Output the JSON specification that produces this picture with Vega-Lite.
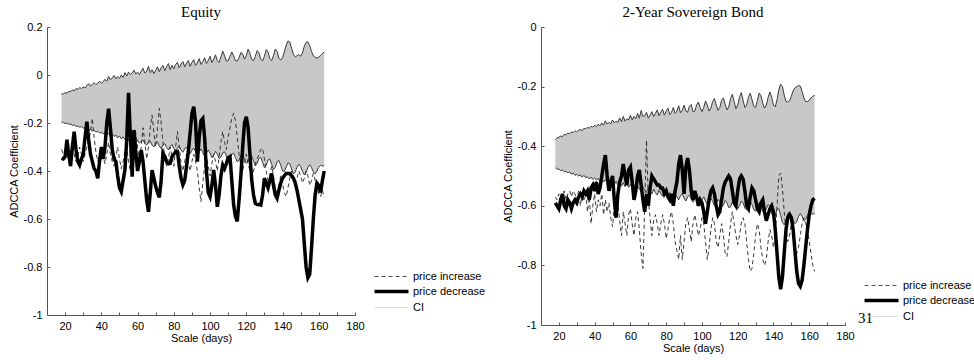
{
"$schema":"https://vega.github.io/schema/vega-lite/v6.json",
"background":"white",
"padding":{"left":8,"top":5,"right":0,"bottom":10},
"bounds":"flush",
"spacing":186,
"config":{
"view":{"stroke":null},
"font":"Liberation Sans",
"axis":{"grid":false,"domainColor":"#555","tickColor":"#555","tickSize":-3,"labelFont":"Liberation Sans","labelFontSize":11,"labelColor":"#000","titleFont":"Liberation Sans","titleFontSize":11,"titleFontWeight":"normal","titleColor":"#000","labelPadding":8,"labelFlush":false},
"axisX":{"titlePadding":1},
"axisY":{"titlePadding":4},
"title":{"font":"Liberation Serif","fontSize":15,"fontWeight":"normal","color":"#000","offset":1},
"legend":{"labelFont":"Liberation Sans","labelFontSize":11,"labelColor":"#000","padding":0,"labelOffset":16}
},
"datasets":{
"eq":[
{"x":18,"h":-0.080,"l":-0.195,"i":-0.31,"d":-0.347},
{"x":19,"h":-0.078,"l":-0.198,"i":-0.33,"d":-0.35},
{"x":20,"h":-0.074,"l":-0.202,"i":-0.35,"d":-0.34},
{"x":21,"h":-0.076,"l":-0.200,"i":-0.32,"d":-0.27},
{"x":22,"h":-0.068,"l":-0.206,"i":-0.36,"d":-0.33},
{"x":23,"h":-0.070,"l":-0.204,"i":-0.34,"d":-0.38},
{"x":24,"h":-0.062,"l":-0.210,"i":-0.30,"d":-0.30},
{"x":25,"h":-0.066,"l":-0.208,"i":-0.33,"d":-0.236},
{"x":26,"h":-0.056,"l":-0.214,"i":-0.36,"d":-0.31},
{"x":27,"h":-0.060,"l":-0.212,"i":-0.34,"d":-0.36},
{"x":28,"h":-0.052,"l":-0.218,"i":-0.30,"d":-0.375},
{"x":29,"h":-0.056,"l":-0.215,"i":-0.33,"d":-0.35},
{"x":30,"h":-0.050,"l":-0.222,"i":-0.36,"d":-0.33},
{"x":31,"h":-0.054,"l":-0.219,"i":-0.33,"d":-0.26},
{"x":32,"h":-0.044,"l":-0.226,"i":-0.30,"d":-0.195},
{"x":33,"h":-0.036,"l":-0.230,"i":-0.27,"d":-0.27},
{"x":34,"h":-0.046,"l":-0.226,"i":-0.24,"d":-0.33},
{"x":35,"h":-0.040,"l":-0.234,"i":-0.18,"d":-0.36},
{"x":36,"h":-0.032,"l":-0.230,"i":-0.26,"d":-0.39},
{"x":37,"h":-0.040,"l":-0.238,"i":-0.32,"d":-0.40},
{"x":38,"h":-0.034,"l":-0.234,"i":-0.36,"d":-0.43},
{"x":39,"h":-0.026,"l":-0.242,"i":-0.33,"d":-0.36},
{"x":40,"h":-0.034,"l":-0.238,"i":-0.30,"d":-0.30},
{"x":41,"h":-0.028,"l":-0.246,"i":-0.34,"d":-0.35},
{"x":42,"h":-0.018,"l":-0.240,"i":-0.37,"d":-0.30},
{"x":43,"h":-0.026,"l":-0.250,"i":-0.33,"d":-0.20},
{"x":44,"h":-0.006,"l":-0.244,"i":-0.28,"d":-0.14},
{"x":45,"h":-0.020,"l":-0.254,"i":-0.33,"d":-0.22},
{"x":46,"h":-0.012,"l":-0.246,"i":-0.36,"d":-0.31},
{"x":47,"h":-0.002,"l":-0.256,"i":-0.38,"d":-0.35},
{"x":48,"h":-0.016,"l":-0.250,"i":-0.34,"d":-0.36},
{"x":49,"h":-0.006,"l":-0.262,"i":-0.30,"d":-0.42},
{"x":50,"h":-0.014,"l":-0.254,"i":-0.35,"d":-0.47},
{"x":51,"h":0.000,"l":-0.266,"i":-0.39,"d":-0.486},
{"x":52,"h":-0.010,"l":-0.258,"i":-0.36,"d":-0.44},
{"x":53,"h":0.010,"l":-0.270,"i":-0.32,"d":-0.396},
{"x":54,"h":-0.004,"l":-0.262,"i":-0.30,"d":-0.27},
{"x":55,"h":0.012,"l":-0.274,"i":-0.36,"d":-0.074},
{"x":56,"h":0.002,"l":-0.264,"i":-0.40,"d":-0.25},
{"x":57,"h":0.008,"l":-0.278,"i":-0.34,"d":-0.424},
{"x":58,"h":0.020,"l":-0.268,"i":-0.28,"d":-0.229},
{"x":59,"h":0.004,"l":-0.282,"i":-0.24,"d":-0.32},
{"x":60,"h":0.012,"l":-0.272,"i":-0.30,"d":-0.40},
{"x":61,"h":0.002,"l":-0.284,"i":-0.36,"d":-0.36},
{"x":62,"h":0.016,"l":-0.276,"i":-0.30,"d":-0.313},
{"x":63,"h":0.028,"l":-0.270,"i":-0.22,"d":-0.36},
{"x":64,"h":0.008,"l":-0.286,"i":-0.28,"d":-0.44},
{"x":65,"h":0.016,"l":-0.292,"i":-0.35,"d":-0.52},
{"x":66,"h":0.036,"l":-0.280,"i":-0.30,"d":-0.57},
{"x":67,"h":0.010,"l":-0.276,"i":-0.22,"d":-0.49},
{"x":68,"h":0.022,"l":-0.292,"i":-0.167,"d":-0.396},
{"x":69,"h":0.006,"l":-0.300,"i":-0.24,"d":-0.43},
{"x":70,"h":0.020,"l":-0.286,"i":-0.30,"d":-0.465},
{"x":71,"h":0.034,"l":-0.280,"i":-0.22,"d":-0.49},
{"x":72,"h":0.014,"l":-0.296,"i":-0.139,"d":-0.51},
{"x":73,"h":0.030,"l":-0.306,"i":-0.20,"d":-0.44},
{"x":74,"h":0.040,"l":-0.292,"i":-0.28,"d":-0.326},
{"x":75,"h":0.018,"l":-0.286,"i":-0.34,"d":-0.34},
{"x":76,"h":0.034,"l":-0.302,"i":-0.38,"d":-0.36},
{"x":77,"h":0.048,"l":-0.312,"i":-0.35,"d":-0.37},
{"x":78,"h":0.022,"l":-0.298,"i":-0.30,"d":-0.368},
{"x":79,"h":0.040,"l":-0.290,"i":-0.34,"d":-0.34},
{"x":80,"h":0.026,"l":-0.306,"i":-0.38,"d":-0.33},
{"x":81,"h":0.044,"l":-0.318,"i":-0.30,"d":-0.32},
{"x":82,"h":0.052,"l":-0.304,"i":-0.236,"d":-0.319},
{"x":83,"h":0.030,"l":-0.296,"i":-0.30,"d":-0.38},
{"x":84,"h":0.046,"l":-0.312,"i":-0.37,"d":-0.43},
{"x":85,"h":0.056,"l":-0.322,"i":-0.40,"d":-0.458},
{"x":86,"h":0.034,"l":-0.308,"i":-0.36,"d":-0.44},
{"x":87,"h":0.050,"l":-0.300,"i":-0.33,"d":-0.38},
{"x":88,"h":0.060,"l":-0.316,"i":-0.37,"d":-0.319},
{"x":89,"h":0.036,"l":-0.328,"i":-0.40,"d":-0.24},
{"x":90,"h":0.052,"l":-0.314,"i":-0.36,"d":-0.16},
{"x":91,"h":0.064,"l":-0.304,"i":-0.33,"d":-0.132},
{"x":92,"h":0.040,"l":-0.320,"i":-0.36,"d":-0.20},
{"x":93,"h":0.050,"l":-0.334,"i":-0.40,"d":-0.361},
{"x":94,"h":0.068,"l":-0.320,"i":-0.47,"d":-0.26},
{"x":95,"h":0.044,"l":-0.308,"i":-0.528,"d":-0.19},
{"x":96,"h":0.056,"l":-0.324,"i":-0.45,"d":-0.181},
{"x":97,"h":0.072,"l":-0.338,"i":-0.38,"d":-0.26},
{"x":98,"h":0.048,"l":-0.326,"i":-0.34,"d":-0.40},
{"x":99,"h":0.060,"l":-0.312,"i":-0.38,"d":-0.49},
{"x":100,"h":0.078,"l":-0.326,"i":-0.42,"d":-0.507},
{"x":101,"h":0.052,"l":-0.344,"i":-0.37,"d":-0.46},
{"x":102,"h":0.066,"l":-0.334,"i":-0.33,"d":-0.396},
{"x":103,"h":0.084,"l":-0.318,"i":-0.36,"d":-0.46},
{"x":104,"h":0.060,"l":-0.330,"i":-0.40,"d":-0.549},
{"x":105,"h":0.052,"l":-0.348,"i":-0.34,"d":-0.50},
{"x":106,"h":0.076,"l":-0.342,"i":-0.28,"d":-0.42},
{"x":107,"h":0.100,"l":-0.324,"i":-0.236,"d":-0.375},
{"x":108,"h":0.080,"l":-0.320,"i":-0.28,"d":-0.39},
{"x":109,"h":0.058,"l":-0.338,"i":-0.31,"d":-0.37},
{"x":110,"h":0.060,"l":-0.356,"i":-0.26,"d":-0.345},
{"x":111,"h":0.078,"l":-0.348,"i":-0.22,"d":-0.34},
{"x":112,"h":0.096,"l":-0.330,"i":-0.18,"d":-0.44},
{"x":113,"h":0.080,"l":-0.326,"i":-0.16,"d":-0.54},
{"x":114,"h":0.060,"l":-0.344,"i":-0.19,"d":-0.59},
{"x":115,"h":0.058,"l":-0.362,"i":-0.26,"d":-0.61},
{"x":116,"h":0.072,"l":-0.354,"i":-0.33,"d":-0.52},
{"x":117,"h":0.094,"l":-0.336,"i":-0.38,"d":-0.42},
{"x":118,"h":0.088,"l":-0.332,"i":-0.40,"d":-0.30},
{"x":119,"h":0.066,"l":-0.350,"i":-0.36,"d":-0.20},
{"x":120,"h":0.080,"l":-0.368,"i":-0.33,"d":-0.174},
{"x":121,"h":0.108,"l":-0.360,"i":-0.37,"d":-0.22},
{"x":122,"h":0.090,"l":-0.342,"i":-0.40,"d":-0.33},
{"x":123,"h":0.064,"l":-0.338,"i":-0.42,"d":-0.438},
{"x":124,"h":0.060,"l":-0.358,"i":-0.40,"d":-0.50},
{"x":125,"h":0.078,"l":-0.378,"i":-0.37,"d":-0.535},
{"x":126,"h":0.102,"l":-0.368,"i":-0.35,"d":-0.54},
{"x":127,"h":0.092,"l":-0.348,"i":-0.33,"d":-0.54},
{"x":128,"h":0.066,"l":-0.344,"i":-0.31,"d":-0.542},
{"x":129,"h":0.058,"l":-0.364,"i":-0.305,"d":-0.50},
{"x":130,"h":0.078,"l":-0.386,"i":-0.35,"d":-0.43},
{"x":131,"h":0.106,"l":-0.376,"i":-0.40,"d":-0.45},
{"x":132,"h":0.096,"l":-0.354,"i":-0.44,"d":-0.47},
{"x":133,"h":0.068,"l":-0.350,"i":-0.42,"d":-0.44},
{"x":134,"h":0.060,"l":-0.372,"i":-0.38,"d":-0.41},
{"x":135,"h":0.082,"l":-0.394,"i":-0.42,"d":-0.46},
{"x":136,"h":0.108,"l":-0.384,"i":-0.47,"d":-0.50},
{"x":137,"h":0.098,"l":-0.362,"i":-0.50,"d":-0.514},
{"x":138,"h":0.070,"l":-0.356,"i":-0.46,"d":-0.48},
{"x":139,"h":0.062,"l":-0.376,"i":-0.42,"d":-0.45},
{"x":140,"h":0.072,"l":-0.400,"i":-0.45,"d":-0.43},
{"x":141,"h":0.096,"l":-0.402,"i":-0.49,"d":-0.42},
{"x":142,"h":0.124,"l":-0.384,"i":-0.507,"d":-0.41},
{"x":143,"h":0.142,"l":-0.366,"i":-0.47,"d":-0.41},
{"x":144,"h":0.138,"l":-0.370,"i":-0.43,"d":-0.41},
{"x":145,"h":0.112,"l":-0.392,"i":-0.40,"d":-0.42},
{"x":146,"h":0.086,"l":-0.412,"i":-0.42,"d":-0.43},
{"x":147,"h":0.076,"l":-0.404,"i":-0.45,"d":-0.45},
{"x":148,"h":0.080,"l":-0.384,"i":-0.43,"d":-0.48},
{"x":149,"h":0.086,"l":-0.372,"i":-0.40,"d":-0.52},
{"x":150,"h":0.078,"l":-0.382,"i":-0.42,"d":-0.56},
{"x":151,"h":0.092,"l":-0.402,"i":-0.45,"d":-0.60},
{"x":152,"h":0.120,"l":-0.416,"i":-0.43,"d":-0.70},
{"x":153,"h":0.136,"l":-0.406,"i":-0.40,"d":-0.80},
{"x":154,"h":0.138,"l":-0.386,"i":-0.42,"d":-0.845},
{"x":155,"h":0.122,"l":-0.374,"i":-0.46,"d":-0.83},
{"x":156,"h":0.098,"l":-0.386,"i":-0.44,"d":-0.72},
{"x":157,"h":0.080,"l":-0.404,"i":-0.41,"d":-0.60},
{"x":158,"h":0.074,"l":-0.412,"i":-0.44,"d":-0.50},
{"x":159,"h":0.070,"l":-0.400,"i":-0.47,"d":-0.45},
{"x":160,"h":0.074,"l":-0.384,"i":-0.50,"d":-0.46},
{"x":161,"h":0.082,"l":-0.376,"i":-0.507,"d":-0.49},
{"x":162,"h":0.090,"l":-0.380,"i":-0.48,"d":-0.44},
{"x":163,"h":0.096,"l":-0.378,"i":-0.51,"d":-0.40}
],
"bd":[
{"x":18,"h":-0.378,"l":-0.472,"i":-0.57,"d":-0.59},
{"x":19,"h":-0.372,"l":-0.478,"i":-0.58,"d":-0.60},
{"x":20,"h":-0.370,"l":-0.476,"i":-0.56,"d":-0.61},
{"x":21,"h":-0.366,"l":-0.482,"i":-0.60,"d":-0.58},
{"x":22,"h":-0.368,"l":-0.480,"i":-0.57,"d":-0.56},
{"x":23,"h":-0.360,"l":-0.486,"i":-0.55,"d":-0.60},
{"x":24,"h":-0.362,"l":-0.484,"i":-0.58,"d":-0.61},
{"x":25,"h":-0.356,"l":-0.490,"i":-0.56,"d":-0.58},
{"x":26,"h":-0.358,"l":-0.486,"i":-0.55,"d":-0.59},
{"x":27,"h":-0.352,"l":-0.494,"i":-0.57,"d":-0.61},
{"x":28,"h":-0.354,"l":-0.490,"i":-0.55,"d":-0.59},
{"x":29,"h":-0.348,"l":-0.498,"i":-0.56,"d":-0.58},
{"x":30,"h":-0.352,"l":-0.494,"i":-0.58,"d":-0.59},
{"x":31,"h":-0.346,"l":-0.500,"i":-0.55,"d":-0.57},
{"x":32,"h":-0.344,"l":-0.496,"i":-0.60,"d":-0.56},
{"x":33,"h":-0.348,"l":-0.504,"i":-0.56,"d":-0.57},
{"x":34,"h":-0.340,"l":-0.498,"i":-0.58,"d":-0.55},
{"x":35,"h":-0.342,"l":-0.506,"i":-0.56,"d":-0.56},
{"x":36,"h":-0.336,"l":-0.502,"i":-0.62,"d":-0.55},
{"x":37,"h":-0.340,"l":-0.510,"i":-0.57,"d":-0.58},
{"x":38,"h":-0.333,"l":-0.504,"i":-0.66,"d":-0.54},
{"x":39,"h":-0.336,"l":-0.512,"i":-0.60,"d":-0.53},
{"x":40,"h":-0.330,"l":-0.506,"i":-0.56,"d":-0.55},
{"x":41,"h":-0.334,"l":-0.514,"i":-0.62,"d":-0.52},
{"x":42,"h":-0.326,"l":-0.508,"i":-0.58,"d":-0.56},
{"x":43,"h":-0.332,"l":-0.518,"i":-0.60,"d":-0.54},
{"x":44,"h":-0.322,"l":-0.510,"i":-0.56,"d":-0.50},
{"x":45,"h":-0.330,"l":-0.520,"i":-0.63,"d":-0.46},
{"x":46,"h":-0.315,"l":-0.512,"i":-0.58,"d":-0.43},
{"x":47,"h":-0.326,"l":-0.522,"i":-0.62,"d":-0.50},
{"x":48,"h":-0.320,"l":-0.514,"i":-0.59,"d":-0.55},
{"x":49,"h":-0.325,"l":-0.524,"i":-0.64,"d":-0.52},
{"x":50,"h":-0.312,"l":-0.516,"i":-0.67,"d":-0.50},
{"x":51,"h":-0.322,"l":-0.528,"i":-0.60,"d":-0.58},
{"x":52,"h":-0.316,"l":-0.518,"i":-0.63,"d":-0.64},
{"x":53,"h":-0.320,"l":-0.530,"i":-0.59,"d":-0.56},
{"x":54,"h":-0.305,"l":-0.520,"i":-0.65,"d":-0.52},
{"x":55,"h":-0.318,"l":-0.534,"i":-0.70,"d":-0.50},
{"x":56,"h":-0.300,"l":-0.522,"i":-0.62,"d":-0.46},
{"x":57,"h":-0.316,"l":-0.536,"i":-0.66,"d":-0.50},
{"x":58,"h":-0.308,"l":-0.526,"i":-0.70,"d":-0.53},
{"x":59,"h":-0.312,"l":-0.538,"i":-0.63,"d":-0.48},
{"x":60,"h":-0.296,"l":-0.528,"i":-0.61,"d":-0.47},
{"x":61,"h":-0.312,"l":-0.542,"i":-0.66,"d":-0.52},
{"x":62,"h":-0.300,"l":-0.530,"i":-0.70,"d":-0.58},
{"x":63,"h":-0.308,"l":-0.546,"i":-0.64,"d":-0.55},
{"x":64,"h":-0.290,"l":-0.534,"i":-0.62,"d":-0.50},
{"x":65,"h":-0.306,"l":-0.544,"i":-0.68,"d":-0.48},
{"x":66,"h":-0.280,"l":-0.552,"i":-0.76,"d":-0.53},
{"x":67,"h":-0.300,"l":-0.536,"i":-0.81,"d":-0.58},
{"x":68,"h":-0.298,"l":-0.548,"i":-0.60,"d":-0.62},
{"x":69,"h":-0.286,"l":-0.556,"i":-0.38,"d":-0.56},
{"x":70,"h":-0.306,"l":-0.540,"i":-0.58,"d":-0.60},
{"x":71,"h":-0.296,"l":-0.552,"i":-0.64,"d":-0.54},
{"x":72,"h":-0.284,"l":-0.560,"i":-0.70,"d":-0.50},
{"x":73,"h":-0.300,"l":-0.544,"i":-0.65,"d":-0.51},
{"x":74,"h":-0.290,"l":-0.556,"i":-0.63,"d":-0.52},
{"x":75,"h":-0.278,"l":-0.564,"i":-0.66,"d":-0.53},
{"x":76,"h":-0.298,"l":-0.548,"i":-0.70,"d":-0.53},
{"x":77,"h":-0.286,"l":-0.560,"i":-0.66,"d":-0.54},
{"x":78,"h":-0.276,"l":-0.568,"i":-0.63,"d":-0.54},
{"x":79,"h":-0.296,"l":-0.552,"i":-0.66,"d":-0.56},
{"x":80,"h":-0.282,"l":-0.562,"i":-0.71,"d":-0.55},
{"x":81,"h":-0.272,"l":-0.572,"i":-0.68,"d":-0.57},
{"x":82,"h":-0.294,"l":-0.556,"i":-0.64,"d":-0.58},
{"x":83,"h":-0.286,"l":-0.566,"i":-0.62,"d":-0.56},
{"x":84,"h":-0.270,"l":-0.576,"i":-0.66,"d":-0.60},
{"x":85,"h":-0.290,"l":-0.560,"i":-0.72,"d":-0.55},
{"x":86,"h":-0.282,"l":-0.570,"i":-0.75,"d":-0.52},
{"x":87,"h":-0.264,"l":-0.580,"i":-0.78,"d":-0.46},
{"x":88,"h":-0.288,"l":-0.566,"i":-0.70,"d":-0.43},
{"x":89,"h":-0.280,"l":-0.560,"i":-0.78,"d":-0.48},
{"x":90,"h":-0.262,"l":-0.574,"i":-0.72,"d":-0.56},
{"x":91,"h":-0.282,"l":-0.584,"i":-0.66,"d":-0.47},
{"x":92,"h":-0.286,"l":-0.570,"i":-0.64,"d":-0.44},
{"x":93,"h":-0.266,"l":-0.564,"i":-0.68,"d":-0.48},
{"x":94,"h":-0.260,"l":-0.578,"i":-0.72,"d":-0.55},
{"x":95,"h":-0.284,"l":-0.588,"i":-0.66,"d":-0.58},
{"x":96,"h":-0.282,"l":-0.574,"i":-0.63,"d":-0.55},
{"x":97,"h":-0.262,"l":-0.566,"i":-0.66,"d":-0.57},
{"x":98,"h":-0.252,"l":-0.580,"i":-0.70,"d":-0.60},
{"x":99,"h":-0.270,"l":-0.592,"i":-0.68,"d":-0.58},
{"x":100,"h":-0.284,"l":-0.580,"i":-0.64,"d":-0.59},
{"x":101,"h":-0.270,"l":-0.570,"i":-0.66,"d":-0.62},
{"x":102,"h":-0.248,"l":-0.584,"i":-0.72,"d":-0.66},
{"x":103,"h":-0.262,"l":-0.596,"i":-0.78,"d":-0.62},
{"x":104,"h":-0.282,"l":-0.586,"i":-0.74,"d":-0.58},
{"x":105,"h":-0.272,"l":-0.574,"i":-0.68,"d":-0.55},
{"x":106,"h":-0.250,"l":-0.586,"i":-0.64,"d":-0.54},
{"x":107,"h":-0.240,"l":-0.600,"i":-0.66,"d":-0.56},
{"x":108,"h":-0.262,"l":-0.592,"i":-0.72,"d":-0.60},
{"x":109,"h":-0.280,"l":-0.578,"i":-0.74,"d":-0.63},
{"x":110,"h":-0.270,"l":-0.588,"i":-0.70,"d":-0.62},
{"x":111,"h":-0.246,"l":-0.604,"i":-0.66,"d":-0.58},
{"x":112,"h":-0.238,"l":-0.598,"i":-0.70,"d":-0.54},
{"x":113,"h":-0.260,"l":-0.582,"i":-0.76,"d":-0.52},
{"x":114,"h":-0.278,"l":-0.590,"i":-0.77,"d":-0.51},
{"x":115,"h":-0.268,"l":-0.606,"i":-0.72,"d":-0.50},
{"x":116,"h":-0.240,"l":-0.604,"i":-0.66,"d":-0.51},
{"x":117,"h":-0.226,"l":-0.586,"i":-0.62,"d":-0.55},
{"x":118,"h":-0.250,"l":-0.582,"i":-0.66,"d":-0.59},
{"x":119,"h":-0.274,"l":-0.598,"i":-0.70,"d":-0.60},
{"x":120,"h":-0.262,"l":-0.610,"i":-0.73,"d":-0.55},
{"x":121,"h":-0.236,"l":-0.600,"i":-0.70,"d":-0.51},
{"x":122,"h":-0.220,"l":-0.584,"i":-0.66,"d":-0.50},
{"x":123,"h":-0.246,"l":-0.590,"i":-0.64,"d":-0.51},
{"x":124,"h":-0.270,"l":-0.608,"i":-0.66,"d":-0.55},
{"x":125,"h":-0.262,"l":-0.614,"i":-0.72,"d":-0.60},
{"x":126,"h":-0.236,"l":-0.598,"i":-0.78,"d":-0.61},
{"x":127,"h":-0.222,"l":-0.586,"i":-0.82,"d":-0.57},
{"x":128,"h":-0.244,"l":-0.596,"i":-0.81,"d":-0.54},
{"x":129,"h":-0.266,"l":-0.614,"i":-0.76,"d":-0.55},
{"x":130,"h":-0.270,"l":-0.618,"i":-0.70,"d":-0.58},
{"x":131,"h":-0.246,"l":-0.602,"i":-0.66,"d":-0.61},
{"x":132,"h":-0.222,"l":-0.590,"i":-0.68,"d":-0.62},
{"x":133,"h":-0.230,"l":-0.600,"i":-0.74,"d":-0.59},
{"x":134,"h":-0.256,"l":-0.620,"i":-0.78,"d":-0.58},
{"x":135,"h":-0.272,"l":-0.626,"i":-0.80,"d":-0.62},
{"x":136,"h":-0.262,"l":-0.610,"i":-0.78,"d":-0.65},
{"x":137,"h":-0.236,"l":-0.596,"i":-0.72,"d":-0.63},
{"x":138,"h":-0.218,"l":-0.604,"i":-0.68,"d":-0.61},
{"x":139,"h":-0.236,"l":-0.626,"i":-0.70,"d":-0.60},
{"x":140,"h":-0.262,"l":-0.640,"i":-0.74,"d":-0.62},
{"x":141,"h":-0.268,"l":-0.634,"i":-0.70,"d":-0.68},
{"x":142,"h":-0.244,"l":-0.612,"i":-0.60,"d":-0.76},
{"x":143,"h":-0.210,"l":-0.610,"i":-0.50,"d":-0.84},
{"x":144,"h":-0.192,"l":-0.632,"i":-0.49,"d":-0.88},
{"x":145,"h":-0.200,"l":-0.656,"i":-0.54,"d":-0.84},
{"x":146,"h":-0.228,"l":-0.664,"i":-0.62,"d":-0.76},
{"x":147,"h":-0.250,"l":-0.648,"i":-0.68,"d":-0.68},
{"x":148,"h":-0.252,"l":-0.626,"i":-0.72,"d":-0.64},
{"x":149,"h":-0.248,"l":-0.620,"i":-0.70,"d":-0.63},
{"x":150,"h":-0.232,"l":-0.632,"i":-0.66,"d":-0.64},
{"x":151,"h":-0.214,"l":-0.650,"i":-0.70,"d":-0.68},
{"x":152,"h":-0.204,"l":-0.660,"i":-0.74,"d":-0.75},
{"x":153,"h":-0.200,"l":-0.654,"i":-0.76,"d":-0.82},
{"x":154,"h":-0.196,"l":-0.636,"i":-0.74,"d":-0.86},
{"x":155,"h":-0.198,"l":-0.626,"i":-0.70,"d":-0.87},
{"x":156,"h":-0.216,"l":-0.636,"i":-0.66,"d":-0.85},
{"x":157,"h":-0.238,"l":-0.650,"i":-0.64,"d":-0.80},
{"x":158,"h":-0.250,"l":-0.646,"i":-0.66,"d":-0.74},
{"x":159,"h":-0.250,"l":-0.632,"i":-0.68,"d":-0.68},
{"x":160,"h":-0.246,"l":-0.624,"i":-0.72,"d":-0.63},
{"x":161,"h":-0.238,"l":-0.626,"i":-0.76,"d":-0.60},
{"x":162,"h":-0.232,"l":-0.628,"i":-0.80,"d":-0.58},
{"x":163,"h":-0.230,"l":-0.626,"i":-0.82,"d":-0.575}
],
"pg":[{"t":"31","x":191.5,"y":-0.977}]
},
"resolve":{"scale":{"x":"independent","y":"independent","color":"independent"},"legend":{"color":"independent"}},
"hconcat":[
{
"width":308,"height":288,
"title":"Equity",
"data":{"name":"eq"},
"encoding":{"x":{"field":"x","type":"quantitative","scale":{"domain":[10,180],"nice":false,"zero":false},"axis":{"title":"Scale (days)","values":[20,30,40,50,60,70,80,90,100,110,120,130,140,150,160,170,180],"labelExpr":"datum.value % 20 == 0 ? datum.label : ''"}}},
"layer":[
{"mark":{"type":"area","color":"#c8c8c8","opacity":1},"encoding":{"y":{"field":"l","type":"quantitative","scale":{"domain":[-1,0.2],"nice":false,"zero":false},"axis":{"title":"ADCCA Coefficient","values":[-1,-0.8,-0.6,-0.4,-0.2,0,0.2],"labelExpr":"'' + round(datum.value*10)/10"}},"y2":{"field":"h"}}},
{"mark":{"type":"line","color":"#3a3a3a","strokeWidth":1},"encoding":{"y":{"field":"h","type":"quantitative","axis":{"title":"ADCCA Coefficient","values":[-1,-0.8,-0.6,-0.4,-0.2,0,0.2],"labelExpr":"'' + round(datum.value*10)/10"}}}},
{"mark":{"type":"line","color":"#3a3a3a","strokeWidth":1},"encoding":{"y":{"field":"l","type":"quantitative","axis":{"title":"ADCCA Coefficient","values":[-1,-0.8,-0.6,-0.4,-0.2,0,0.2],"labelExpr":"'' + round(datum.value*10)/10"}}}},
{"mark":{"type":"line","strokeWidth":0.9,"strokeDash":[4,3]},"encoding":{"y":{"field":"i","type":"quantitative","axis":{"title":"ADCCA Coefficient","values":[-1,-0.8,-0.6,-0.4,-0.2,0,0.2],"labelExpr":"'' + round(datum.value*10)/10"}},"color":{"datum":"price increase","type":"nominal","scale":{"domain":["price increase","price decrease","CI"],"range":["#222222","#000000","#cccccc"]},"legend":{"orient":"none","legendX":339,"legendY":244,"title":null,"symbolType":"stroke","symbolSize":1156,"encode":{"symbols":{"update":{"strokeWidth":{"signal":"datum.value=='price decrease'?3.5:0.8"},"strokeDash":{"signal":"datum.value=='price increase'?[4,3]:[1,0]"},"stroke":{"signal":"datum.value=='CI'?'#cccccc':'#000000'"}}}}}}}},
{"mark":{"type":"line","strokeWidth":3.5},"encoding":{"y":{"field":"d","type":"quantitative","axis":{"title":"ADCCA Coefficient","values":[-1,-0.8,-0.6,-0.4,-0.2,0,0.2],"labelExpr":"'' + round(datum.value*10)/10"}},"color":{"datum":"price decrease","type":"nominal"}}}
]
},
{
"width":304,"height":298,
"title":"2-Year Sovereign Bond",
"data":{"name":"bd"},
"encoding":{"x":{"field":"x","type":"quantitative","scale":{"domain":[10,180],"nice":false,"zero":false},"axis":{"title":"Scale (days)","values":[20,30,40,50,60,70,80,90,100,110,120,130,140,150,160,170,180],"labelExpr":"datum.value % 20 == 0 ? datum.label : ''"}}},
"layer":[
{"mark":{"type":"area","color":"#c8c8c8","opacity":1},"encoding":{"y":{"field":"l","type":"quantitative","scale":{"domain":[-1,0],"nice":false,"zero":false},"axis":{"title":"ADCCA Coefficient","values":[-1,-0.8,-0.6,-0.4,-0.2,0],"labelExpr":"'' + round(datum.value*10)/10"}},"y2":{"field":"h"}}},
{"mark":{"type":"line","color":"#3a3a3a","strokeWidth":1},"encoding":{"y":{"field":"h","type":"quantitative","axis":{"title":"ADCCA Coefficient","values":[-1,-0.8,-0.6,-0.4,-0.2,0],"labelExpr":"'' + round(datum.value*10)/10"}}}},
{"mark":{"type":"line","color":"#3a3a3a","strokeWidth":1},"encoding":{"y":{"field":"l","type":"quantitative","axis":{"title":"ADCCA Coefficient","values":[-1,-0.8,-0.6,-0.4,-0.2,0],"labelExpr":"'' + round(datum.value*10)/10"}}}},
{"mark":{"type":"line","strokeWidth":0.9,"strokeDash":[4,3]},"encoding":{"y":{"field":"i","type":"quantitative","axis":{"title":"ADCCA Coefficient","values":[-1,-0.8,-0.6,-0.4,-0.2,0],"labelExpr":"'' + round(datum.value*10)/10"}},"color":{"datum":"price increase","type":"nominal","scale":{"domain":["price increase","price decrease","CI"],"range":["#222222","#000000","#cccccc"]},"legend":{"orient":"none","legendX":335,"legendY":253,"title":null,"symbolType":"stroke","symbolSize":1156,"encode":{"symbols":{"update":{"strokeWidth":{"signal":"datum.value=='price decrease'?3.5:0.8"},"strokeDash":{"signal":"datum.value=='price increase'?[4,3]:[1,0]"},"stroke":{"signal":"datum.value=='CI'?'#cccccc':'#000000'"}}}}}}}},
{"mark":{"type":"line","strokeWidth":3.5},"encoding":{"y":{"field":"d","type":"quantitative","axis":{"title":"ADCCA Coefficient","values":[-1,-0.8,-0.6,-0.4,-0.2,0],"labelExpr":"'' + round(datum.value*10)/10"}},"color":{"datum":"price decrease","type":"nominal"}}},
{"data":{"name":"pg"},"mark":{"type":"text","font":"Liberation Serif","fontSize":15,"color":"#000","align":"center","baseline":"middle"},"encoding":{"x":{"field":"x","type":"quantitative"},"y":{"field":"y","type":"quantitative","axis":{"title":"ADCCA Coefficient","values":[-1,-0.8,-0.6,-0.4,-0.2,0],"labelExpr":"'' + round(datum.value*10)/10"}},"text":{"field":"t"}}}
]
}
]
}
